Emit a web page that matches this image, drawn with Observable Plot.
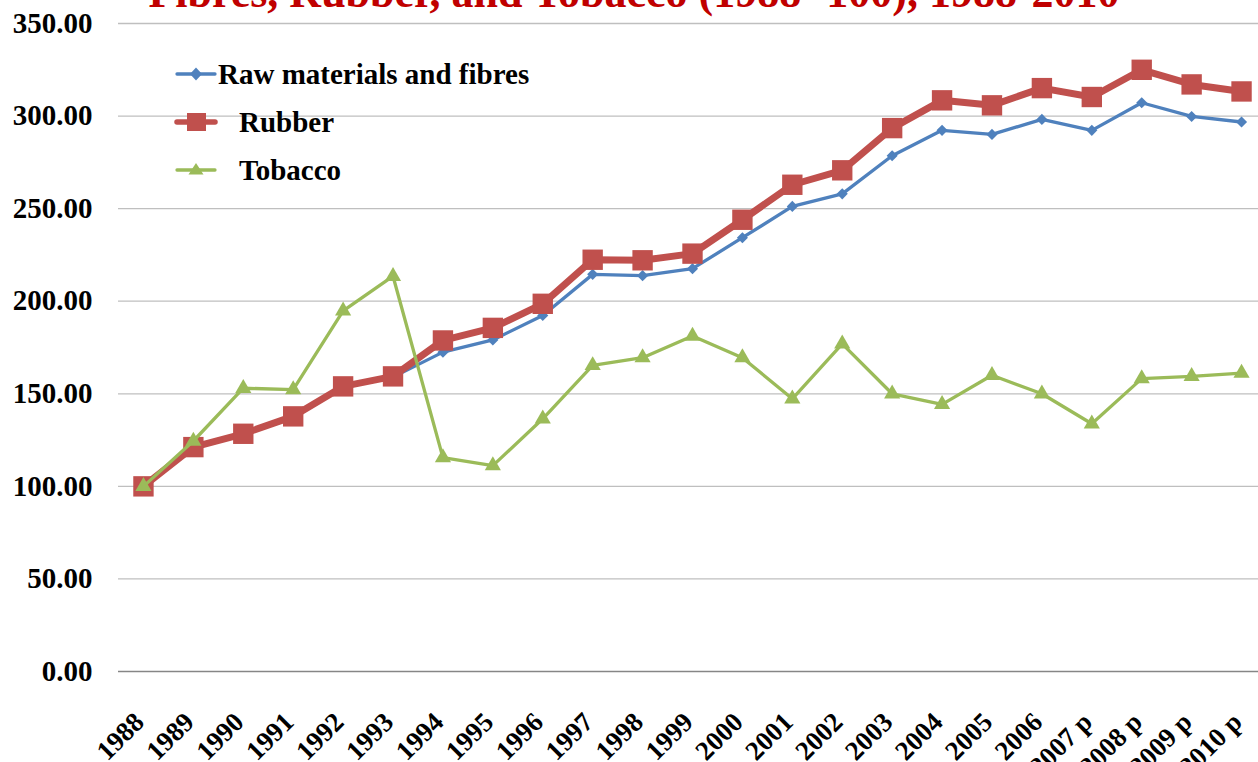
<!DOCTYPE html>
<html>
<head>
<meta charset="utf-8">
<script src="https://cdn.jsdelivr.net/npm/d3@7"></script>
<script src="https://cdn.jsdelivr.net/npm/@observablehq/plot@0.6"></script>
<style>
  html, body { margin: 0; padding: 0; background: #fff; overflow: hidden; width: 1258px; height: 762px; }
  #wrap { position: relative; width: 1258px; height: 762px; overflow: hidden; font-family: "Liberation Serif", "Times New Roman", serif; }
  #title { position: absolute; left: 0; width: 1268px; text-align: center; top: -29px; font-size: 44px; font-weight: bold; color: #C00000; white-space: nowrap; line-height: 1; }
  #chart { position: absolute; left: 0; top: 0; width: 1266px; }
  #chart svg { max-width: none !important; width: 1266px; height: 800px; }
  #legend { position: absolute; left: 172px; top: 56px; font-size: 29px; font-weight: bold; color: #000; }
  .row { position: absolute; left: 0; height: 36px; display: flex; align-items: center; white-space: nowrap; }
  .row svg { flex: none; }
  #chart svg text { font-family: "Liberation Serif", "Times New Roman", serif; font-weight: bold; fill: #000; }
  #chart svg g.yax text { font-size: 29px; }
  #chart svg g.xax text { font-size: 27px; }
</style>
</head>
<body>
<div id="wrap">
  <div id="title">Fibres, Rubber, and Tobacco (1988=100), 1988-2010</div>
  <div id="chart"></div>
  <div id="legend"></div>
</div>
<script>
const years = ["1988","1989","1990","1991","1992","1993","1994","1995","1996","1997","1998","1999","2000","2001","2002","2003","2004","2005","2006","2007 p","2008 p","2009 p","2010 p"];
const rawMaterials = [100, 120.5, 128, 137, 153.5, 159, 172.5, 179.1, 192.3, 214.5, 213.8, 217.6, 234.3, 251.2, 258, 278.6, 292.3, 290.1, 298.2, 292.3, 307.2, 299.8, 296.8];
const rubber = [100, 121.2, 128.4, 137.8, 154, 159.4, 178.8, 185.6, 198.6, 222.4, 222.1, 225.7, 244, 262.9, 270.7, 293.5, 308.5, 305.8, 315.1, 310.3, 325, 317.1, 313.3];
const tobacco = [100, 124.5, 153, 152.3, 194.8, 213.5, 115.5, 111.2, 136.5, 165.3, 169.5, 181.2, 169.5, 147.3, 177, 150, 144.3, 160, 150, 133.8, 158.2, 159.4, 161.2];
const seriesNames = ["Raw materials and fibres", "Rubber", "Tobacco"];
const yTicks = [0, 50, 100, 150, 200, 250, 300, 350];

const colors = {"Raw materials and fibres": "#4F81BD", "Rubber": "#C0504D", "Tobacco": "#9BBB59"};
const toRows = (vals) => years.map((y, i) => ({year: y, value: vals[i]}));
const rawRows = toRows(rawMaterials);
const rubRows = toRows(rubber);
const tobRows = toRows(tobacco);

const plot = Plot.plot({
  width: 1266,
  height: 800,
  marginLeft: 118,
  marginRight: 0,
  marginTop: 23,
  marginBottom: 129,
  style: {fontFamily: "'Liberation Serif', 'Times New Roman', serif", background: "transparent", overflow: "visible"},
  x: {type: "point", domain: years, padding: 0.5, round: false, label: null},
  y: {domain: [0, 350], label: null},
  marks: [
    Plot.gridY(yTicks.filter(d => d > 0), {stroke: "#BFBFBF", strokeOpacity: 1, strokeWidth: 1.3}),
    Plot.ruleY([0], {stroke: "#868686", strokeWidth: 1.3}),
    Plot.ruleX([0], {x: () => 0, frameAnchor: "left", stroke: "#868686", strokeWidth: 1.3}),
    Plot.axisY({ticks: yTicks, tickFormat: d3.format(".2f"), tickSize: 0, tickPadding: 26, fontSize: 29, fontWeight: "bold", fill: "#000", className: "yax"}),
    Plot.axisX({tickSize: 0, tickRotate: -45, tickPadding: 46, dx: -4, fontSize: 27, fontWeight: "bold", fill: "#000", className: "xax"}),
    Plot.line(rawRows, {x: "year", y: "value", stroke: colors["Raw materials and fibres"], strokeWidth: 3.3}),
    Plot.dot(rawRows, {x: "year", y: "value", symbol: "diamond2", r: 5, fill: colors["Raw materials and fibres"], stroke: "none"}),
    Plot.line(rubRows, {x: "year", y: "value", stroke: colors["Rubber"], strokeWidth: 7}),
    Plot.dot(rubRows, {x: "year", y: "value", symbol: "square", r: 11.5, fill: colors["Rubber"], stroke: "none"}),
    Plot.line(tobRows, {x: "year", y: "value", stroke: colors["Tobacco"], strokeWidth: 3.3}),
    Plot.dot(tobRows, {x: "year", y: "value", symbol: "triangle", r: 6, fill: colors["Tobacco"], stroke: "none"})
  ]
});
document.getElementById("chart").appendChild(plot);

// Legend
const legend = document.getElementById("legend");
const legendSpec = [
  {name: seriesNames[0], sw: 3.3, sym: "diamond", gap: 0},
  {name: seriesNames[1], sw: 5.5, sym: "square", gap: 21},
  {name: seriesNames[2], sw: 3.3, sym: "triangle", gap: 21}
];
legendSpec.forEach((s, i) => {
  const row = document.createElement("div");
  row.className = "row";
  row.style.top = (i * 48) + "px";
  const c = colors[s.name];
  let symbol = "";
  if (s.sym === "diamond") symbol = `<path d="M24,11.5 L30,18 L24,24.5 L18,18 Z" fill="${c}"/>`;
  if (s.sym === "square") symbol = `<rect x="15" y="9" width="19" height="18" fill="${c}"/>`;
  if (s.sym === "triangle") symbol = `<path d="M24,11 L31.5,22.5 L16.5,22.5 Z" fill="${c}"/>`;
  row.innerHTML = `<svg width="46" height="36"><line x1="5" x2="43" y1="18" y2="18" stroke="${c}" stroke-width="${s.sw}" stroke-linecap="round"/>${symbol}</svg><span style="margin-left:${s.gap}px">${s.name}</span>`;
  legend.appendChild(row);
});
</script>
</body>
</html>
